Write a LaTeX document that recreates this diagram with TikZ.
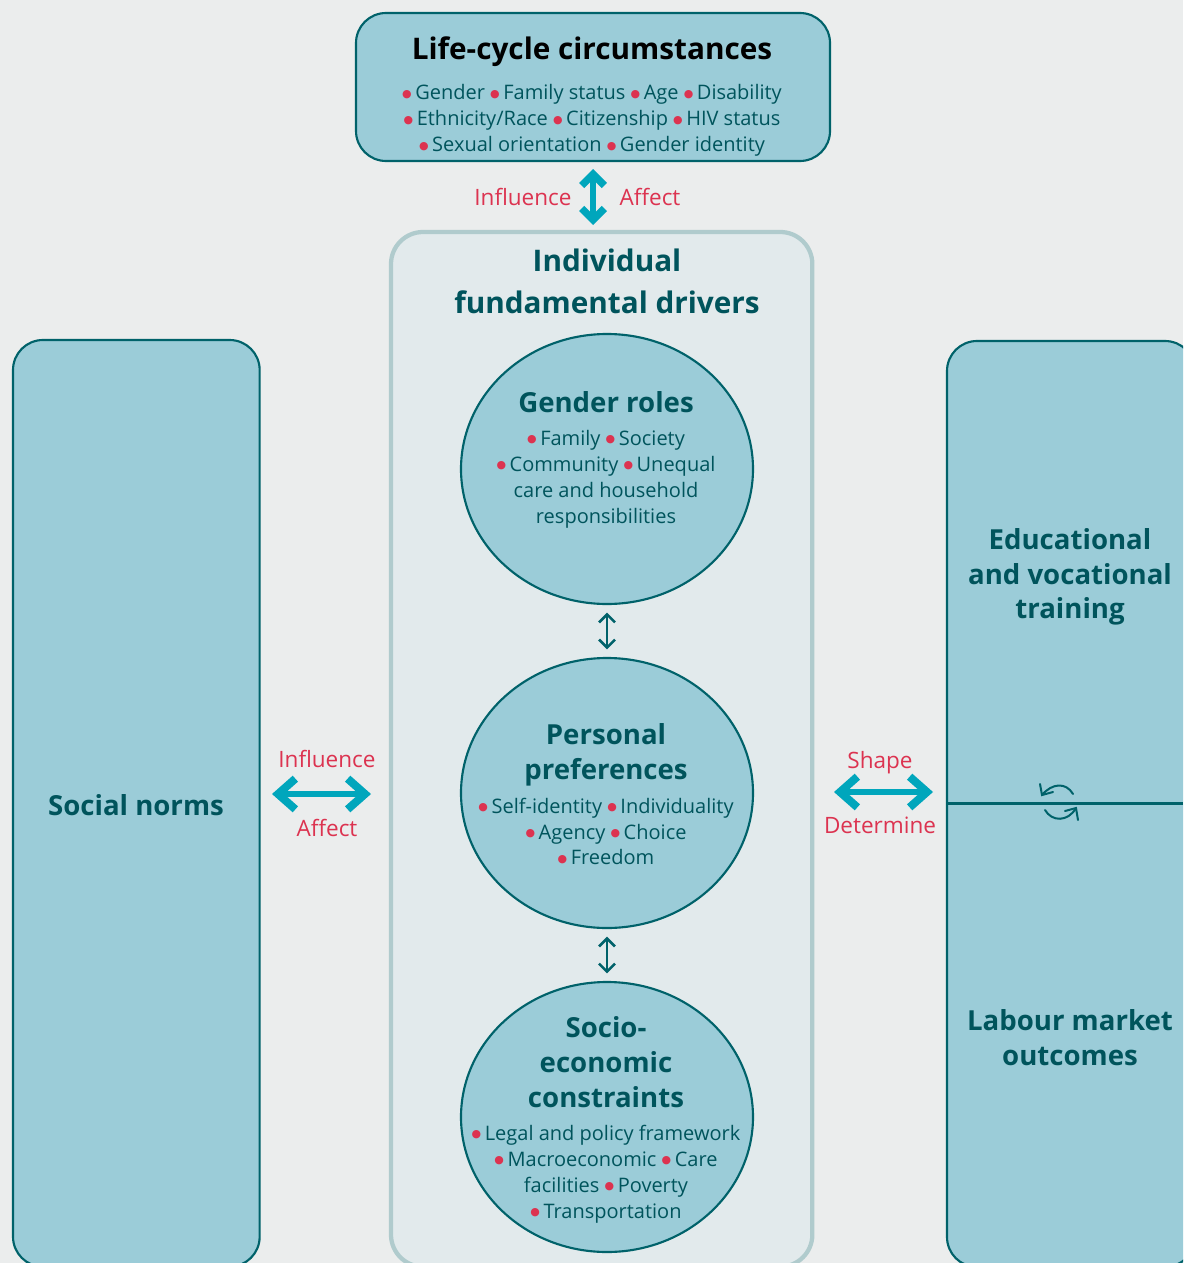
\documentclass[tikz,border=0pt]{standalone}
\usepackage{fontspec}
\setmainfont{Open Sans}
\newfontfamily\bufont{DejaVu Sans}
\usetikzlibrary{arrows.meta,shapes.geometric}
\definecolor{bg}{HTML}{EBEDED}
\definecolor{fillb}{HTML}{9BCCD8}
\definecolor{teal}{HTML}{00626A}
\definecolor{darkt}{HTML}{00545C}
\definecolor{panel}{HTML}{E2EAEC}
\definecolor{panelb}{HTML}{B0CBCD}
\definecolor{redt}{HTML}{DC3350}
\definecolor{arrowc}{HTML}{00A6BC}
\newcommand{\bu}{\smash{\raisebox{1.9pt}{\fontsize{8.2}{8.2}\bufont\textcolor{redt}{●}}}\kern0.18em}
\tikzset{
 x=0.75pt,y=-0.75pt,
 every node/.style={outer sep=0pt},
 boxs/.style={draw=teal,line width=1.6pt,fill=fillb,rounded corners=22.5pt,inner sep=0pt},
 circs/.style={ellipse,draw=teal,line width=1.6pt,fill=fillb,minimum width=219pt,minimum height=202.5pt,inner sep=0pt},
 title/.style={font=\fontsize{20.7}{26}\selectfont\bfseries,text=darkt,align=center,inner sep=0pt},
 titlebig/.style={title,font=\fontsize{22.3}{31.5}\selectfont\bfseries},
 body/.style={font=\fontsize{15}{19.4}\selectfont,text=darkt,align=center,inner sep=0pt},
 lab/.style={font=\fontsize{16.9}{20}\selectfont,text=redt,inner sep=0pt},
 bigarrow/.style={draw=arrowc,line width=5.2pt,{Straight Barb[length=13pt,width=23pt,line width=6pt]}-{Straight Barb[length=13pt,width=23pt,line width=6pt]}},
 vertarrow/.style={draw=arrowc,line width=5.2pt,{Straight Barb[length=8.5pt,width=17pt,line width=5.5pt]}-{Straight Barb[length=8.5pt,width=17pt,line width=5.5pt]}},
 smallarrow/.style={draw=teal,line width=1.9pt,{Straight Barb[length=6pt,width=12pt,line width=1.9pt]}-{Straight Barb[length=6pt,width=12pt,line width=1.9pt]}},
 cyc/.style={draw=teal,line width=1.5pt,line cap=round,line join=miter}
}
\begin{document}
\begin{tikzpicture}
\path[use as bounding box,fill=bg] (0,0) rectangle (1183,1263);
\clip (0,0) rectangle (1183,1263);
% panels
\node[draw=panelb,line width=3.2pt,fill=panel,rounded corners=24pt,minimum width=316pt,minimum height=776pt,inner sep=0pt,anchor=north west] (panel) at (391,232) {};
\node[boxs,anchor=north west,minimum width=355.5pt,minimum height=111pt] (life) at (356,13) {};
\node[boxs,anchor=north west,minimum width=185pt,minimum height=695pt] (social) at (13,340) {};
\node[boxs,anchor=north west,minimum width=186pt,minimum height=694.5pt] (right) at (947,341) {};
\draw[teal,line width=1.6pt] (947,803.5) coordinate (da) -- (1183,803.5) coordinate (db);
% circles
\node[circs] (gender) at (607,469) {};
\node[circs] (personal) at (607,793) {};
\node[circs] (socio) at (607,1117) {};
% texts
\node[titlebig,text=black] (lifet) at (592,52) {Life-cycle circumstances};
\node[body] (lifeb) at (592,120.5) {\bu Gender \bu Family status \bu Age \bu Disability\\\bu Ethnicity/Race \bu Citizenship \bu HIV status\\\bu Sexual orientation \bu Gender identity};
\node[titlebig] (indiv) at (607,281) {Individual\\fundamental drivers};
\node[title] (gendert) at (606,402) {Gender roles};
\node[body] (genderb) at (606,479) {\bu Family \bu Society\\\bu Community \bu Unequal\\care and household\\responsibilities};
\node[title] (perst) at (606,755) {Personal\\preferences};
\node[body] (persb) at (606,831.5) {\bu Self-identity \bu Individuality\\\bu Agency \bu Choice\\\bu Freedom};
\node[title] (sociot) at (606,1062) {Socio-\\economic\\constraints};
\node[body] (sociob) at (606,1174) {\bu Legal and policy framework\\\bu Macroeconomic \bu Care\\facilities \bu Poverty\\\bu Transportation};
\node[title] (socialt) at (136,805) {Social norms};
\node[title] (edu) at (1070,577) {Educational\\and vocational\\training};
\node[title] (labour) at (1070,1037.5) {Labour market\\outcomes};
% labels
\node[lab] (l1) at (523,197) {Influence};
\node[lab] (l2) at (650,197) {Affect};
\node[lab] (l3) at (327,759) {Influence};
\node[lab] (l4) at (327,828) {Affect};
\node[lab] (l5) at (880,763) {Shape};
\node[lab] (l6) at (880,825) {Determine};
% arrows
\coordinate (a1) at (593,169); \coordinate (a2) at (593,225);
\draw[vertarrow] (a1) -- (a2);
\coordinate (b1) at (272,794); \coordinate (b2) at (371,794);
\draw[bigarrow] (b1) -- (b2);
\coordinate (c1) at (834,792); \coordinate (c2) at (933,792);
\draw[bigarrow] (c1) -- (c2);
\draw[smallarrow] ([yshift=-6.5pt]gender.south) -- ([yshift=6.5pt]personal.north);
\draw[smallarrow] ([yshift=-6.5pt]personal.south) -- ([yshift=6.5pt]socio.north);
% cycle
\coordinate (cy1) at (1073,794); \coordinate (cy2) at (1042,795);
\coordinate (cy3) at (1045,810); \coordinate (cy4) at (1076,808);
\draw[cyc] (cy1) .. controls (1066,782) and (1052,783) .. (cy2);
\draw[cyc] (1040,784) -- (cy2) -- (1053,792);
\draw[cyc] (cy3) .. controls (1052,822) and (1068,822) .. (cy4);
\draw[cyc] (1065,811) -- (cy4) -- (1078,820);
\end{tikzpicture}
\end{document}
